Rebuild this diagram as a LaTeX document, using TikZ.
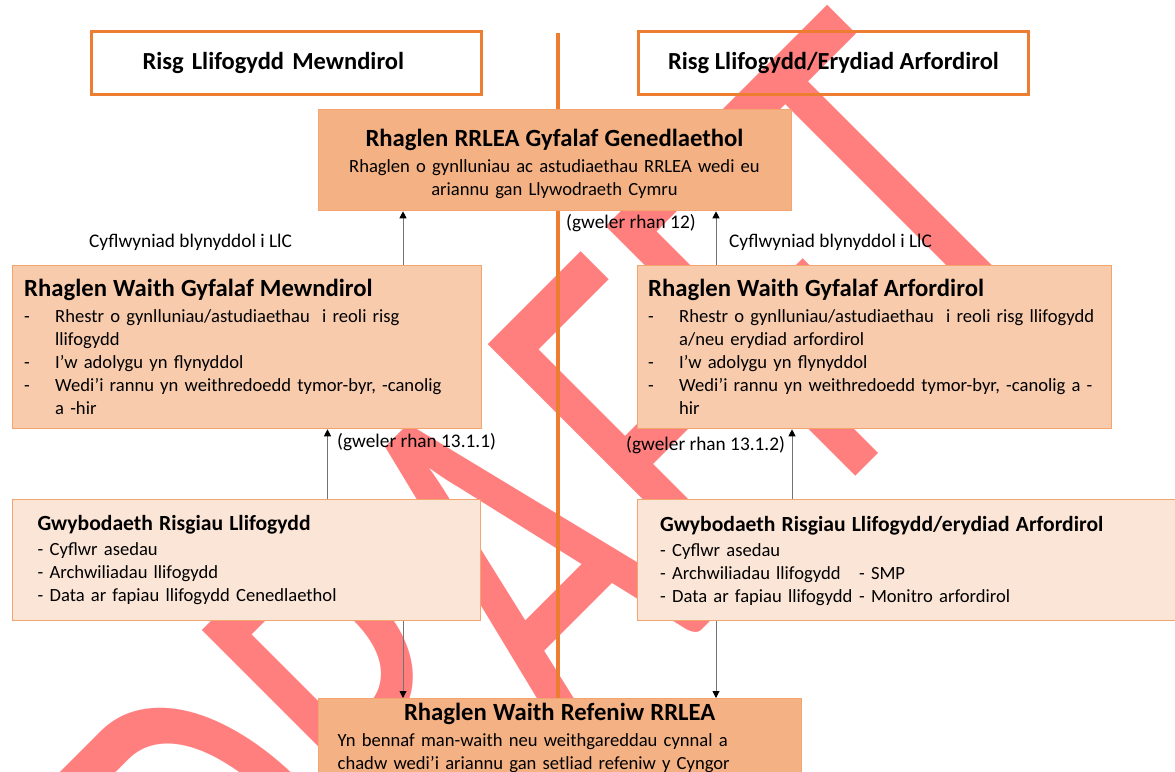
\documentclass[tikz,border=0pt]{standalone}
\usepackage{graphicx}
\usepackage{fontspec}
\setmainfont{Carlito}
\usetikzlibrary{arrows.meta}
\definecolor{orng}{HTML}{ED7D31}
\definecolor{dark}{HTML}{F4B183}
\definecolor{mid}{HTML}{F8CBAD}
\definecolor{light}{HTML}{FBE5D6}
\definecolor{edge}{HTML}{F4A46E}
\definecolor{wmark}{HTML}{FF7F7F}
\newcommand{\itm}{\makebox[31pt][l]{-}}
\newcommand{\itmc}{\hspace*{31pt}}
\newcommand{\ttl}[1]{{\bfseries\fontsize{24.7}{23}\selectfont #1}}
\newcommand{\sbt}[1]{{\bfseries\fontsize{21.6}{23}\selectfont #1}}

\begin{document}
\begin{tikzpicture}[x=1pt, y=-1pt,
	hdr/.style = {draw=orng, line width=3pt, anchor=north west, minimum height=63pt, font=\bfseries\fontsize{24.5}{28}\selectfont},
	box/.style = {draw=edge, line width=1.3pt, anchor=north west, inner sep=0pt},
	txt/.style = {anchor=base west, inner sep=0pt, align=left, font=\fontsize{18.6}{23}\selectfont},
	lbl/.style = {anchor=base west, inner sep=0pt, font=\fontsize{19.3}{23}\selectfont},
	arr/.style = {black!55, line width=0.9pt, -{Triangle[length=7pt, width=7pt, color=black]}},
	wm/.style = {anchor=base west, inner sep=0pt, rotate=45, text=wmark, font=\fontsize{362}{362}\selectfont}]
		\useasboundingbox (0,0) rectangle (1175,771);
		\node[wm] (0) at (276,1056) {\scalebox{1}[1.52]{DRAFFT}};
		\coordinate (top) at (558,33);
		\coordinate (bot) at (558,698);
		\draw[orng, line width=3.5pt] (top) -- (bot);
		\node[hdr, text width=288pt, inner xsep=51pt, align=left] (1) at (90,30) {Risg Llifogydd Mewndirol};
		\node[hdr, minimum width=390pt] (2) at (637,30) {Risg Llifogydd/Erydiad Arfordirol};
		\node[box, fill=dark, minimum width=473pt, minimum height=101pt] (3) at (318,109) {};
		\node[txt, anchor=base, text width=473pt, align=center] (3t) at (554.5,146) {\ttl{Rhaglen RRLEA Gyfalaf Genedlaethol}\\[3pt]
			Rhaglen o gynlluniau ac astudiaethau RRLEA wedi eu\\
			ariannu gan Llywodraeth Cymru};
		\node[box, fill=mid, minimum width=469pt, minimum height=163pt] (4) at (12,265) {};
		\node[txt, text width=455pt] (4t) at (24,296) {\ttl{Rhaglen Waith Gyfalaf Mewndirol}\\[3pt]
			\itm Rhestr o gynlluniau/astudiaethau\ \ i reoli risg\\
			\itmc llifogydd\\
			\itm I’w adolygu yn flynyddol\\
			\itm Wedi’i rannu yn weithredoedd tymor-byr, -canolig\\
			\itmc a -hir};
		\node[box, fill=mid, minimum width=474pt, minimum height=163pt] (5) at (637,265) {};
		\node[txt, text width=520pt] (5t) at (648,296) {\ttl{Rhaglen Waith Gyfalaf Arfordirol}\\[3pt]
			\itm Rhestr o gynlluniau/astudiaethau\ \ i reoli risg llifogydd\\
			\itmc a/neu erydiad arfordirol\\
			\itm I’w adolygu yn flynyddol\\
			\itm Wedi’i rannu yn weithredoedd tymor-byr, -canolig a -\\
			\itmc hir};
		\node[box, fill=light, minimum width=468pt, minimum height=121pt] (6) at (12,499) {};
		\node[txt, text width=430pt] (6t) at (37.5,530) {\sbt{Gwybodaeth Risgiau Llifogydd}\\[2pt]
			- Cyflwr asedau\\
			- Archwiliadau llifogydd\\
			- Data ar fapiau llifogydd Cenedlaethol};
		\node[box, fill=light, minimum width=560pt, minimum height=121pt] (7) at (637,499) {};
		\node[txt, text width=500pt] (7t) at (660,531) {\sbt{Gwybodaeth Risgiau Llifogydd/erydiad Arfordirol}\\[2pt]
			- Cyflwr asedau\\
			\makebox[199pt][l]{- Archwiliadau llifogydd}- SMP\\
			\makebox[199pt][l]{- Data ar fapiau llifogydd}- Monitro arfordirol};
		\node[box, fill=dark, minimum width=483pt, minimum height=120pt] (8) at (318,698) {};
		\node[txt, text width=444pt] (8t) at (337.5,720) {\makebox[444pt][c]{\ttl{Rhaglen Waith Refeniw RRLEA}}\\[3pt]
			Yn bennaf man-waith neu weithgareddau cynnal a\\
			chadw wedi’i ariannu gan setliad refeniw y Cyngor};
		\node[lbl] (9) at (89,247) {Cyflwyniad blynyddol i LlC};
		\node[lbl] (10) at (729,247) {Cyflwyniad blynyddol i LlC};
		\node[lbl] (11) at (566,228) {(gweler rhan 12)};
		\node[lbl] (12) at (337,447) {(gweler rhan 13.1.1)};
		\node[lbl] (13) at (626,450) {(gweler rhan 13.1.2)};
		\draw[arr] (403,0 |- 4.north) -- (403,0 |- 3.south);
		\draw[arr] (716,0 |- 5.north) -- (716,0 |- 3.south);
		\draw[arr] (327.5,0 |- 6.north) -- (327.5,0 |- 4.south);
		\draw[arr] (792,0 |- 7.north) -- (792,0 |- 5.south);
		\draw[arr] (403,0 |- 6.south) -- (403,0 |- 8.north);
		\draw[arr] (716,0 |- 7.south) -- (716,0 |- 8.north);
	\end{tikzpicture}
\end{document}
